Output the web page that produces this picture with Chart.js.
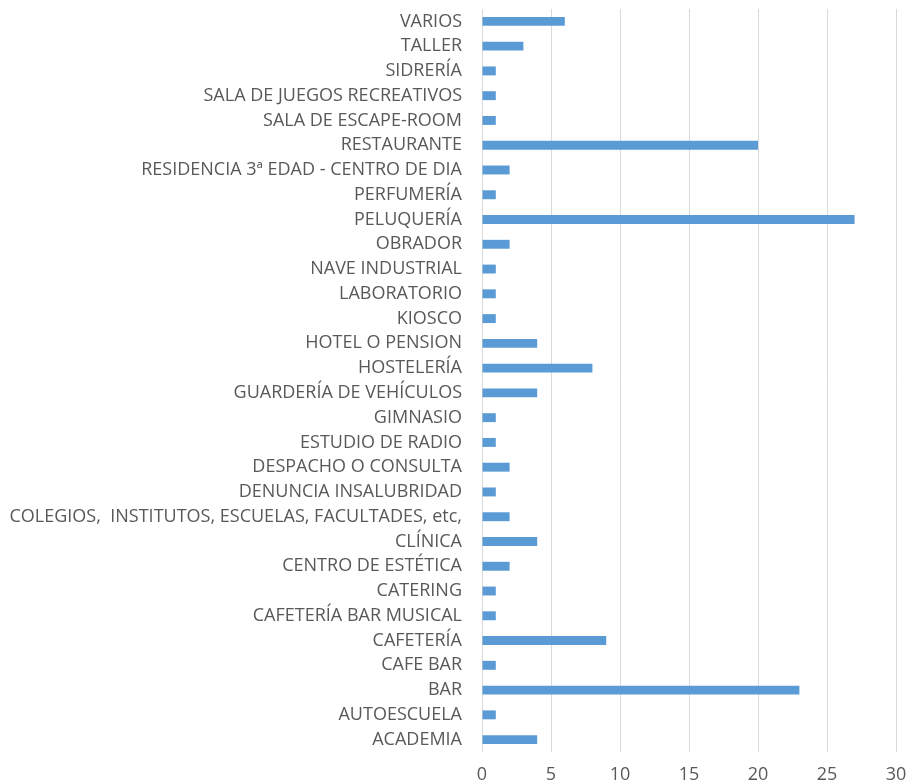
<!DOCTYPE html>
<html>
<head>
<meta charset="utf-8">
<script src="https://cdn.jsdelivr.net/npm/chart.js@4/dist/chart.umd.min.js"></script>
<style>
html,body{margin:0;padding:0;background:#fff;}
#wrap{width:910px;height:782px;}
</style>
</head>
<body>
<div id="wrap"><canvas id="c" width="910" height="782"></canvas></div>
<script>
const categories = [
  "VARIOS","TALLER","SIDRERÍA","SALA DE JUEGOS RECREATIVOS","SALA DE ESCAPE-ROOM",
  "RESTAURANTE","RESIDENCIA 3ª EDAD - CENTRO DE DIA","PERFUMERÍA","PELUQUERÍA","OBRADOR",
  "NAVE INDUSTRIAL","LABORATORIO","KIOSCO","HOTEL O PENSION","HOSTELERÍA",
  "GUARDERÍA DE VEHÍCULOS","GIMNASIO","ESTUDIO DE RADIO","DESPACHO O CONSULTA","DENUNCIA INSALUBRIDAD",
  "COLEGIOS,  INSTITUTOS, ESCUELAS, FACULTADES, etc,","CLÍNICA","CENTRO DE ESTÉTICA","CATERING","CAFETERÍA BAR MUSICAL",
  "CAFETERÍA","CAFE BAR","BAR","AUTOESCUELA","ACADEMIA"
];
const values = [
  6,3,1,1,1,
  20,2,1,27,2,
  1,1,1,4,8,
  4,1,1,2,1,
  2,4,2,1,1,
  9,1,23,1,4
];
const xMin = 0, xMax = 30, xStep = 5;

function zeroPad(s) {
  s.paddingTop = 0; s.paddingBottom = 0; s.paddingLeft = 0; s.paddingRight = 0;
}

new Chart(document.getElementById('c'), {
  type: 'bar',
  data: {
    labels: categories,
    datasets: [{
      data: values,
      backgroundColor: '#5b9bd5',
      borderWidth: 0,
      barPercentage: 0.36,
      categoryPercentage: 1
    }]
  },
  options: {
    indexAxis: 'y',
    responsive: false,
    animation: false,
    layout: { autoPadding: false, padding: { top: 9, right: 14, bottom: 0, left: 0 } },
    plugins: { legend: { display: false }, tooltip: { enabled: false }, title: { display: false } },
    scales: {
      x: {
        min: xMin, max: xMax,
        ticks: { stepSize: xStep, color: '#595959', padding: 14, maxRotation: 0,
                 font: { family: 'Open Sans', size: 18, lineHeight: 1 } },
        grid: { color: '#d9d9d9', lineWidth: 1, drawTicks: false },
        border: { display: false },
        afterFit: s => { s.height = 30; zeroPad(s); }
      },
      y: {
        ticks: { color: '#595959', padding: 20, autoSkip: false,
                 font: { family: 'Open Sans', size: 18, lineHeight: 1.2 } },
        grid: { display: false, drawTicks: false },
        border: { display: false },
        afterFit: s => { s.width = 482; zeroPad(s); }
      }
    }
  }
});
</script>
</body>
</html>
